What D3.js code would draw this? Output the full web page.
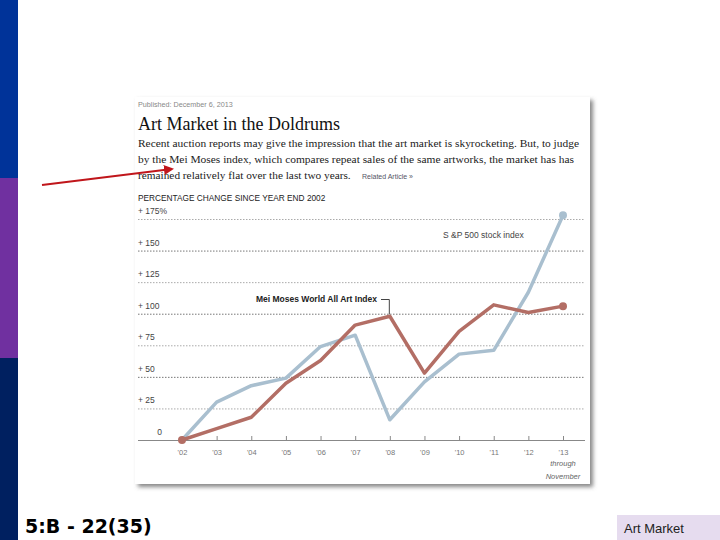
<!DOCTYPE html>
<html>
<head>
<meta charset="utf-8">
<script src="https://cdn.jsdelivr.net/npm/d3@7"></script>
<style>
  body { margin: 0; background: #fff; }
  svg { display: block; }
</style>
</head>
<body>
<script>
// chart values
var years = ["'02", "'03", "'04", "'05", "'06", "'07", "'08", "'09", "'10", "'11", "'12", "'13"];
var sp500 = [0, 30, 43, 49, 74, 83, 16, 46, 68, 71, 117, 178];
var meiMoses = [0, 9, 18, 45, 63, 91, 98, 53, 86, 107, 101, 106];
var yTicks = [0, 25, 50, 75, 100, 125, 150, 175];
var yTickLabels = ["0", "+  25", "+  50", "+  75", "+ 100", "+ 125", "+ 150", "+ 175%"];

var svg = d3.select("body").append("svg")
  .attr("width", 720)
  .attr("height", 540);

// slide decoration
//##############################################
svg.append("rect").attr("x", 0).attr("y", 0).attr("width", 18).attr("height", 178).style("fill", "#003399");
svg.append("rect").attr("x", 0).attr("y", 178).attr("width", 18).attr("height", 180).style("fill", "#7030a0");
svg.append("rect").attr("x", 0).attr("y", 358).attr("width", 18).attr("height", 182).style("fill", "#002060");

svg.append("text").attr("x", 25).attr("y", 533)
  .style("font-family", "DejaVu Sans").style("font-weight", "bold").style("font-size", "19px")
  .text("5:B - 22(35)");

svg.append("rect").attr("x", 617).attr("y", 515).attr("width", 103).attr("height", 25).style("fill", "#e6dcef");
svg.append("text").attr("x", 624).attr("y", 533)
  .style("font-family", "Liberation Sans").style("font-size", "13px").style("fill", "#222")
  .text("Art Market");

// screenshot box with shadow
//##############################################
var defs = svg.append("defs");
var filt = defs.append("filter").attr("id", "shadow").attr("x", "-5%").attr("y", "-5%").attr("width", "115%").attr("height", "115%");
filt.append("feDropShadow").attr("dx", 3).attr("dy", 3).attr("stdDeviation", 2).attr("flood-color", "#555").attr("flood-opacity", 0.7);

svg.append("rect").attr("x", 135).attr("y", 97).attr("width", 455).attr("height", 387)
  .style("fill", "#fff").attr("filter", "url(#shadow)");

var serif = "Liberation Serif";
var sans = "Liberation Sans";

svg.append("text").attr("x", 138).attr("y", 107)
  .style("font-family", sans).style("font-size", "7.2px").style("fill", "#888")
  .text("Published: December 6, 2013");

svg.append("text").attr("x", 138).attr("y", 130)
  .style("font-family", serif).style("font-size", "18px").style("fill", "#111")
  .text("Art Market in the Doldrums");

var body = [
  "Recent auction reports may give the impression that the art market is skyrocketing. But, to judge",
  "by the Mei Moses index, which compares repeat sales of the same artworks, the market has has",
  "remained relatively flat over the last two years."
];
var bodyLen = [441, 436, null];
body.forEach(function(line, i) {
  svg.append("text").attr("x", 138).attr("y", 147 + i * 16)
    .attr("textLength", bodyLen[i])
    .attr("lengthAdjust", "spacingAndGlyphs")
    .style("font-family", serif).style("font-size", "11.3px").style("fill", "#222")
    .text(line);
});
svg.append("text").attr("x", 362).attr("y", 179)
  .style("font-family", sans).style("font-size", "7px").style("fill", "#556")
  .text("Related Article »");

svg.append("text").attr("x", 138).attr("y", 201)
  .style("font-family", sans).style("font-size", "8.3px").style("fill", "#222")
  .text("PERCENTAGE CHANGE SINCE YEAR END 2002");

// chart
//##############################################
var x = d3.scalePoint().domain(years).range([182, 563]);
var y = d3.scaleLinear().domain([0, 175]).range([440, 219]);

var grid = svg.append("g");
grid.selectAll("line")
  .data(yTicks.filter(function(d) { return d > 0; }))
  .enter()
  .append("line")
  .attr("x1", 138).attr("x2", 585)
  .attr("y1", function(d) { return y(d) + 0.5; })
  .attr("y2", function(d) { return y(d) + 0.5; })
  .style("stroke", function(d) { return d % 50 === 0 ? "#777" : "#aaa"; })
  .style("stroke-width", 1)
  .style("stroke-dasharray", "1.5,1.5");

grid.selectAll("text")
  .data(yTicks)
  .enter()
  .append("text")
  .attr("x", function(d) { return d === 0 ? 162 : 138; })
  .attr("y", function(d) { return y(d) - 5; })
  .attr("text-anchor", function(d) { return d === 0 ? "end" : "start"; })
  .style("font-family", sans).style("font-size", "8.5px").style("fill", "#444")
  .text(function(d, i) { return yTickLabels[i]; });

var xAxis = svg.append("g").attr("transform", "translate(0,440)")
  .call(d3.axisBottom(x).tickSize(4).tickPadding(6));
xAxis.select(".domain").attr("d", "M138,0.5H585").style("stroke", "#888");
xAxis.selectAll(".tick line").style("stroke", "#888").attr("y1", -4).attr("y2", 0);
xAxis.selectAll(".tick text").style("font-family", sans).style("font-size", "7.5px").style("fill", "#777");

svg.append("text").attr("x", x("'13")).attr("y", 466).attr("text-anchor", "middle")
  .style("font-family", sans).style("font-style", "italic").style("font-size", "7.5px").style("fill", "#666")
  .text("through");
svg.append("text").attr("x", x("'13")).attr("y", 479).attr("text-anchor", "middle")
  .style("font-family", sans).style("font-style", "italic").style("font-size", "7.5px").style("fill", "#666")
  .text("November");

var line = d3.line()
  .x(function(d, i) { return x(years[i]); })
  .y(function(d) { return y(d); });

var blue = "#a9bfcf";
var red = "#b36e65";

svg.append("path").datum(sp500).attr("d", line)
  .style("fill", "none").style("stroke", blue).style("stroke-width", 3.5).style("stroke-linejoin", "round");
svg.append("path").datum(meiMoses).attr("d", line)
  .style("fill", "none").style("stroke", red).style("stroke-width", 3.5).style("stroke-linejoin", "round");

svg.append("circle").attr("cx", x("'13")).attr("cy", y(sp500[11])).attr("r", 4).style("fill", blue);
svg.append("circle").attr("cx", x("'13")).attr("cy", y(meiMoses[11])).attr("r", 4).style("fill", red);
svg.append("circle").attr("cx", x("'02")).attr("cy", y(meiMoses[0])).attr("r", 4).style("fill", red);

// series labels
svg.append("text").attr("x", 377).attr("y", 302).attr("text-anchor", "end")
  .style("font-family", sans).style("font-weight", "bold").style("font-size", "8.5px").style("fill", "#222")
  .text("Mei Moses World All Art Index");
svg.append("path")
  .attr("d", "M381," + 299.5 + "H" + (x("'08") - 0.5) + "V" + (y(meiMoses[6]) - 2))
  .style("fill", "none").style("stroke", "#444").style("stroke-width", 1);

svg.append("text").attr("x", 443).attr("y", 238)
  .style("font-family", sans).style("font-size", "8.5px").style("fill", "#444")
  .text("S &P  500 stock index");

// red arrow on the slide
//##############################################
var mk = defs.append("marker").attr("id", "arrow")
  .attr("viewBox", "0 0 10 10").attr("refX", 8).attr("refY", 5)
  .attr("markerWidth", 5).attr("markerHeight", 5).attr("orient", "auto");
mk.append("path").attr("d", "M0,0L10,5L0,10z").style("fill", "#c0161b");
svg.append("line").attr("x1", 42).attr("y1", 185).attr("x2", 172).attr("y2", 169)
  .style("stroke", "#c0161b").style("stroke-width", 2).attr("marker-end", "url(#arrow)");
</script>
</body>
</html>
